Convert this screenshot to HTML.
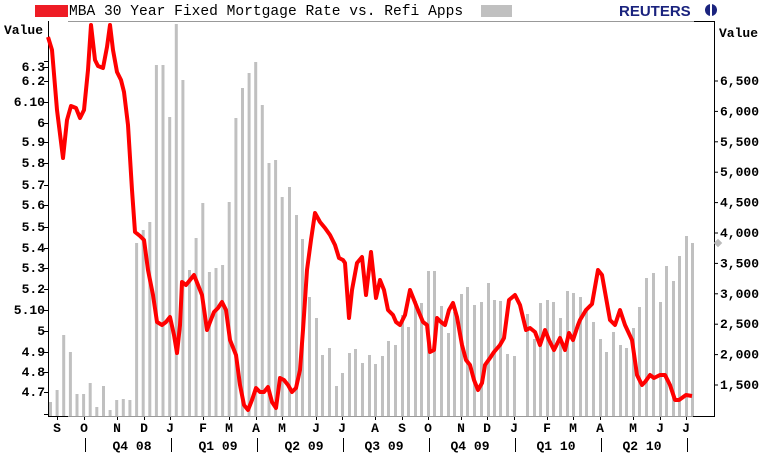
<!DOCTYPE html><html><head><style>body{margin:0;background:#fff;width:773px;height:455px;overflow:hidden}svg text{font-family:"Liberation Mono",monospace;font-weight:bold;font-size:13px;fill:#000}</style></head><body>
<svg width="773" height="455" xmlns="http://www.w3.org/2000/svg">
<rect x="35" y="5" width="33" height="12" fill="#ee1c25"/>
<text x="69" y="15" style="font-size:14.6px;font-weight:normal">MBA 30 Year Fixed Mortgage Rate vs. Refi Apps</text>
<rect x="481" y="5" width="31" height="12" fill="#c0c0c0"/>
<text x="619" y="16" style="font-family:'Liberation Sans',sans-serif;font-size:15px;fill:#1a237e;font-weight:900">REUTERS</text>
<circle cx="711" cy="10" r="6" fill="#1a237e"/><rect x="710" y="4" width="2" height="12" fill="#fff"/>
<line x1="68" y1="21.5" x2="694" y2="21.5" stroke="#999"/><line x1="694" y1="21.5" x2="715" y2="21.5" stroke="#000"/>
<line x1="48.5" y1="21" x2="48.5" y2="417" stroke="#000"/>
<line x1="714.5" y1="21" x2="714.5" y2="417" stroke="#000"/>
<line x1="48" y1="416.5" x2="715" y2="416.5" stroke="#999"/>
<line x1="48" y1="416.5" x2="68" y2="416.5" stroke="#000"/><line x1="693" y1="416.5" x2="715" y2="416.5" stroke="#000"/>
<g fill="#c0c0c0" id="bars"></g>
<polyline id="ln" fill="none" stroke="#f00" stroke-width="4" stroke-linejoin="round" points="48,37 52,50 57,110 63,158 67,120 71,106 76,108 80,118 84,110 88,70 91,25 95,60 98,66 103,68 107,47 110,25 113,50 117,72 121,80 124,92 128,125 132,190 135,232 140,236 144,240 148,270 153,295 157,322 162,325 166,322 170,317 174,335 177,353 180,325 182,282 186,285 190,280 194,275 198,285 202,295 207,330 210,322 214,312 218,308 222,302 226,310 230,340 236,355 240,385 244,405 248,410 252,400 256,388 260,392 264,392 268,387 272,402 276,408 280,378 284,380 288,385 292,392 296,388 300,370 303,330 307,270 311,240 315,213 320,222 325,228 330,235 335,245 339,258 343,260 345,263 349,318 352,290 357,263 362,257 366,295 371,252 376,298 380,280 384,290 388,310 393,315 396,322 400,325 405,315 410,290 414,300 418,310 423,322 427,325 430,352 434,350 437,318 441,322 445,325 449,310 453,303 457,317 462,345 466,360 470,365 474,380 478,390 482,383 485,365 490,358 494,352 500,345 504,338 509,300 515,295 520,305 526,330 530,328 535,332 540,345 545,330 549,340 554,350 560,338 565,350 569,333 573,340 578,325 580,320 586,310 592,304 598,270 602,275 610,320 615,325 620,310 625,325 632,340 637,375 642,385 645,382 650,375 654,378 660,375 665,375 670,385 675,400 679,400 686,395 692,396"/>
<text x="4" y="34">Value</text><text x="719" y="37">Value</text>
<g id="lt" text-anchor="end"></g><g id="rt"></g><g id="bt" text-anchor="middle"></g>
<rect x="715" y="240" width="6" height="6" fill="#bbb" transform="rotate(45 718 243)"/>
</svg>
<script>
var ns="http://www.w3.org/2000/svg";
function el(p,t,a,txt){var e=document.createElementNS(ns,t);for(var k in a)e.setAttribute(k,a[k]);if(txt)e.textContent=txt;document.getElementById(p).appendChild(e);return e;}
var H=[402,390,335,352,394,394,383,407,386,410,400,399,400,243,230,222,65,65,117,24,80,270,238,203,272,268,265,202,118,88,73,62,105,163,160,197];
H.forEach(function(y,i){el("bars","rect",{x:(49+i*6.62).toFixed(1),y:y,width:3,height:416-y});});
var P=[[289,187],[296,215],[302,239],[309,297],[316,318],[322,355],[329,348],[336,386],[342,373],[349,353],[355,349],[362,363],[369,355],[375,364],[382,356],[388,341],[395,345],[402,315],[408,327],[415,301],[421,303],[428,271],[434,271],[441,306],[448,333],[454,312],[461,294],[467,287],[474,305],[481,302],[488,283],[494,300],[500,301],[507,354],[514,356],[527,314],[534,339],[540,303],[547,300],[553,302],[560,318],[567,291],[573,293],[580,297],[586,308],[593,322],[600,339],[606,352],[613,332],[620,345],[626,348],[633,328],[639,307],[646,278],[653,273],[660,302],[666,266],[673,281],[679,256],[686,236],[692,243]];
P.forEach(function(a){el("bars","rect",{x:a[0]-1,y:a[1],width:3,height:416-a[1]});});
var L=[["6.3",67],["6.2",81],["6.10",102],["6",123],["5.9",142],["5.8",163],["5.7",185],["5.6",205],["5.5",227],["5.4",248],["5.3",268],["5.2",289],["5.10",310],["5",331],["4.9",352],["4.8",372],["4.7",392]];
L.forEach(function(a){el("lt","text",{x:45,y:a[1]+4},a[0]);el("lt","line",{x1:44,x2:48,y1:a[1]+.5,y2:a[1]+.5,stroke:"#000"});});
el("lt","line",{x1:44,x2:48,y1:61.5,y2:61.5,stroke:"#000"});el("lt","line",{x1:44,x2:48,y1:414.5,y2:414.5,stroke:"#000"});
for(var v=6500,i=0;v>=1500;v-=500,i++){var y=81+i*30.4;el("rt","line",{x1:714,x2:718,y1:y,y2:y,stroke:"#000"});el("rt","text",{x:720,y:y+4},(v/1000|0)+","+("00"+v%1000).slice(-3));}
var M=[["S",57],["O",84],["N",117],["D",144],["J",170],["F",203],["M",229],["A",256],["M",282],["J",316],["J",342],["A",375],["S",402],["O",428],["N",461],["D",487],["J",514],["F",547],["M",573],["A",600],["M",633],["J",660],["J",686]];
M.forEach(function(a){el("bt","text",{x:a[1],y:432},a[0]);el("bt","line",{x1:a[1]+.5,x2:a[1]+.5,y1:417,y2:420,stroke:"#000"});});
var Q=[["Q4 08",132],["Q1 09",218],["Q2 09",304],["Q3 09",384],["Q4 09",470],["Q1 10",556],["Q2 10",642]];
Q.forEach(function(a){el("bt","text",{x:a[1],y:450},a[0]);});
[85,171,257,343,429,515,601,687].forEach(function(x){el("bt","line",{x1:x+.5,x2:x+.5,y1:438,y2:452,stroke:"#000"});});
</script></body></html>
